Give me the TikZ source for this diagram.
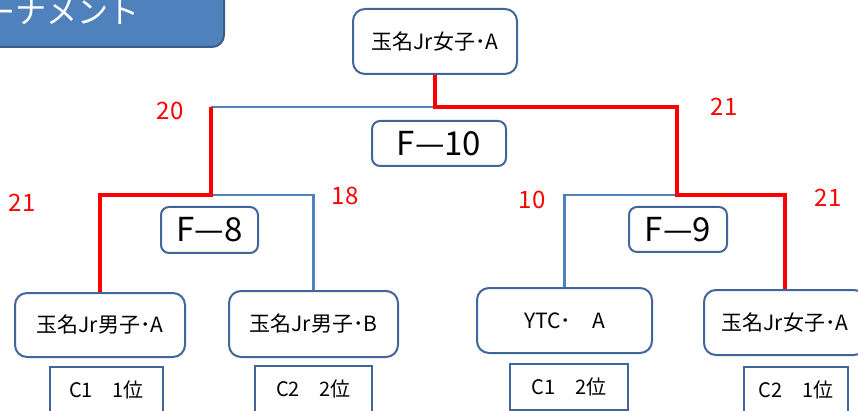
\documentclass[tikz,border=0pt]{standalone}
\usepackage{fontspec}
\setmainfont{Noto Sans CJK JP}
\definecolor{boxline}{HTML}{41679A}
\definecolor{bracket}{HTML}{4F81BD}
\definecolor{titlefill}{HTML}{4F81BD}
\definecolor{titleline}{HTML}{385D8A}
\tikzstyle{titlebox}=[draw=titleline,fill=titlefill,line width=2pt,rounded corners=12pt]
\tikzstyle{team}=[draw=boxline,line width=2pt,rounded corners=12pt,inner sep=0pt,font=\fontsize{21}{24}\selectfont]
\tikzstyle{match}=[draw=boxline,line width=2pt,rounded corners=8pt,inner sep=0pt,font=\fontsize{33}{36}\selectfont]
\tikzstyle{rank}=[draw=boxline,line width=2pt,inner sep=0pt,font=\fontsize{20}{24}\selectfont]
\tikzstyle{score}=[text=red,inner sep=0pt,font=\fontsize{24}{28}\selectfont]
\tikzstyle{win}=[red,line width=4pt]
\tikzstyle{lose}=[bracket,line width=2.5pt]

\begin{document}
\begin{tikzpicture}[x=1pt,y=-1pt]
        \useasboundingbox (0,0) rectangle (858,411);
        \clip (0,0) rectangle (858,411);
        % title
        \node[titlebox,minimum width=300pt,minimum height=80pt] (title) at (74,7) {};
        \node[text=white,inner sep=0pt,anchor=east,font=\fontsize{31}{34}\selectfont] (titletext) at (140,12) {ーナメント};
        % teams and matches
        \node[team,minimum width=164pt,minimum height=65pt] (top) at (435,41.5) {玉名Jr女子･A};
        \node[match,minimum width=134pt,minimum height=45pt] (f10) at (439,143.5) {F—10};
        \node[match,minimum width=97pt,minimum height=46pt] (f8) at (209.5,230) {F—8};
        \node[match,minimum width=98pt,minimum height=45pt] (f9) at (678,229.5) {F—9};
        \node[team,minimum width=170pt,minimum height=64pt] (a1) at (100,325) {玉名Jr男子･A};
        \node[team,minimum width=169pt,minimum height=66pt] (a2) at (313.5,324) {玉名Jr男子･B};
        \node[team,minimum width=175pt,minimum height=65pt] (b1) at (564.5,320.5) {YTC･　A};
        \node[team,minimum width=162pt,minimum height=65pt] (b2) at (785,322.5) {玉名Jr女子･A};
        \node[rank,minimum width=113pt,minimum height=46pt] (ra1) at (106.5,390) {C1　1位};
        \node[rank,minimum width=117pt,minimum height=46pt] (ra2) at (313.5,389) {C2　2位};
        \node[rank,minimum width=118pt,minimum height=46pt] (rb1) at (569,387) {C1　2位};
        \node[rank,minimum width=104pt,minimum height=46pt] (rb2) at (796,390) {C2　1位};
        % bracket
        \coordinate (semiL) at (211,107);
        \coordinate (semiR) at (677,107);
        \coordinate (qL) at (211,195);
        \coordinate (qR) at (677,195);
        \draw[lose] (semiL) -- (top.south |- semiL);
        \draw[lose] (qL) -| (a2.north);
        \draw[lose] (qR) -| (b1.north);
        \draw[win] (top.south) |- (semiR) -- (qR) -| (b2.north);
        \draw[win] (semiL) -- (qL) -| (a1.north);
        % scores
        \node[score] (sL) at (170,111) {20};
        \node[score] (sR) at (724,107) {21};
        \node[score] (sA1) at (22,203) {21};
        \node[score] (sA2) at (345,196) {18};
        \node[score] (sB1) at (532,200) {10};
        \node[score] (sB2) at (828,198) {21};
      \end{tikzpicture}
\end{document}
